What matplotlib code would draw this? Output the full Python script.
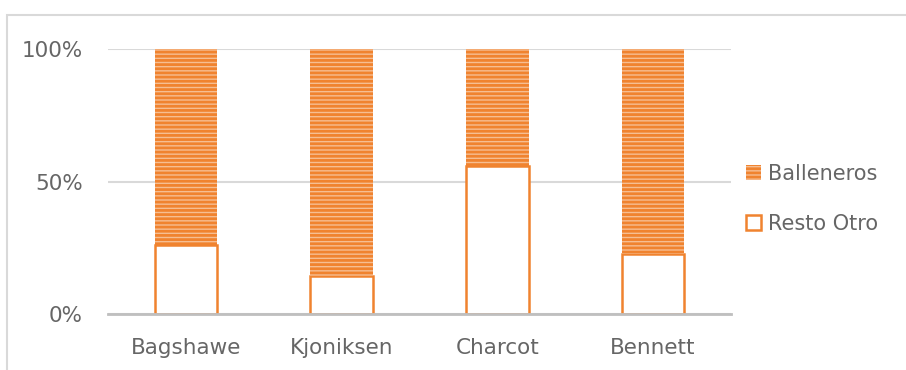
import matplotlib
matplotlib.use("Agg")
import matplotlib.pyplot as plt
from matplotlib.patches import Rectangle, Patch
import numpy as np

categories = ["Bagshawe", "Kjoniksen", "Charcot", "Bennett"]
resto_otro = [26, 14.5, 56, 22.5]
balleneros = [74, 85.5, 44, 77.5]
yticks = [0, 50, 100]
ytick_labels = ["0%", "50%", "100%"]

orange = "#F0832F"
light_orange = "#F6BE92"
text_color = "#666666"

plt.rcParams["font.family"] = ["DejaVu Sans"]
plt.rcParams["hatch.linewidth"] = 2.0
plt.rcParams["hatch.color"] = orange

fig = plt.figure(figsize=(9.06, 3.70), dpi=100)
ax = fig.add_axes([108 / 906, 1 - 314 / 370, 623 / 906, 265 / 370])

# outer chart border (cropped)
fig.patches.append(Rectangle((7 / 906, -0.1), 1.2, (1 - 15 / 370) + 0.1,
                             transform=fig.transFigure, fill=False,
                             edgecolor="#D9D9D9", linewidth=1.5))

x = np.arange(len(categories))
w = 0.4
ax.bar(x, resto_otro, width=w, color="white", edgecolor=orange, linewidth=1.8,
       zorder=3)
ax.bar(x, balleneros, width=w, bottom=resto_otro, color=light_orange,
       edgecolor=orange, linewidth=0, hatch="----", zorder=3)

ax.set_xlim(-0.5, len(categories) - 0.5)
ax.set_ylim(0, 100)
ax.set_yticks(yticks)
ax.set_yticklabels(ytick_labels)
ax.set_xticks(x)
ax.set_xticklabels(categories)
ax.tick_params(axis="both", length=0, labelsize=15.5, colors=text_color)
ax.tick_params(axis="y", pad=18)
ax.tick_params(axis="x", pad=17)
ax.grid(axis="y", color="#D9D9D9", linewidth=1.5, zorder=0)
ax.set_axisbelow(True)
for s in ["top", "right", "left"]:
    ax.spines[s].set_visible(False)
ax.spines["bottom"].set_color("#BFBFBF")
ax.spines["bottom"].set_linewidth(2)
ax.spines["bottom"].set_zorder(4)

handles = [
    Patch(facecolor=light_orange, edgecolor=orange, hatch="----", linewidth=0,
          label="Balleneros"),
    Patch(facecolor="white", edgecolor=orange, linewidth=1.8, label="Resto Otro"),
]
leg = fig.legend(handles=handles, loc="center left",
                 bbox_to_anchor=(727 / 906, 1 - 199 / 370), frameon=False,
                 fontsize=15, handlelength=0.75, handleheight=0.75,
                 handletextpad=0.3, labelspacing=1.45, labelcolor=text_color)

fig.savefig("out.png", dpi=100)
